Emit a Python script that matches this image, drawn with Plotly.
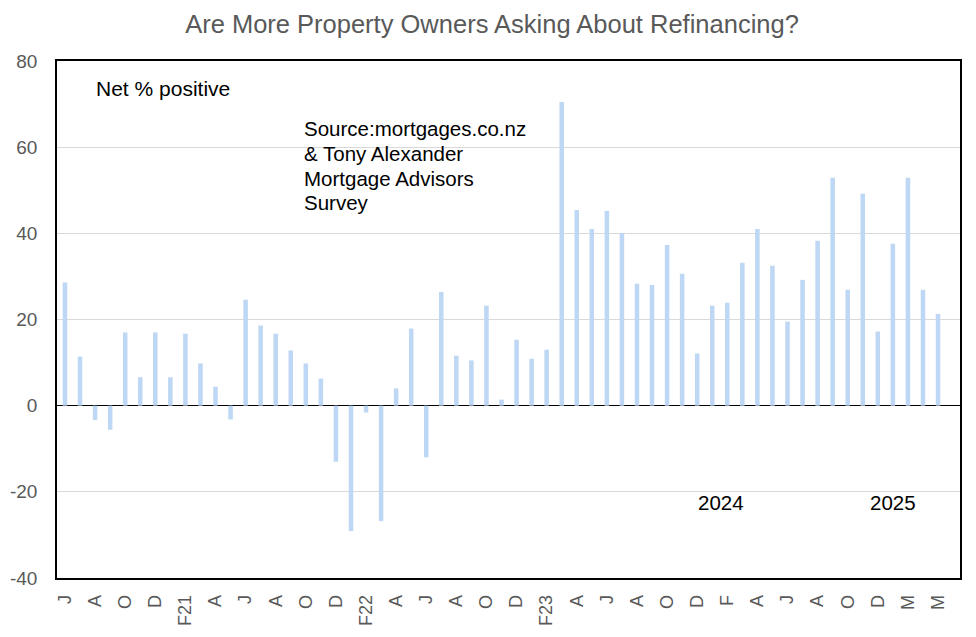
import plotly.graph_objects as go

# Net % of advisors reporting more refinancing enquiries, one bar per survey
net_positive = [
    28.6, 11.4, -3.3, -5.6, 17.0, 6.6, 17.0, 6.6, 16.7, 9.8,
    4.4, -3.2, 24.6, 18.6, 16.7, 12.8, 9.8, 6.3, -13.0, -29.1,
    -1.6, -26.8, 4.0, 17.9, -12.0, 26.4, 11.6, 10.5, 23.2, 1.4,
    15.3, 10.9, 13.0, 70.5, 45.4, 41.0, 45.2, 40.1, 28.3, 28.0,
    37.3, 30.6, 12.1, 23.2, 23.9, 33.2, 41.0, 32.5, 19.5, 29.2,
    38.3, 52.9, 26.9, 49.2, 17.2, 37.6, 52.9, 26.9, 21.3,
]

# every second survey gets a label
tick_labels = [
    "J", "A", "O", "D", "F21", "A", "J", "A", "O", "D",
    "F22", "A", "J", "A", "O", "D", "F23", "A", "J", "A",
    "O", "D", "F", "A", "J", "A", "O", "D", "M", "M",
]

y_ticks = [-40, -20, 0, 20, 40, 60, 80]
y_tick_text = ["-40", "-20", "0", "20", "40", "60", "80"]

year_labels = ["2024", "2025"]
year_label_pos = [43.6, 55.0]

source_lines = ["Source:mortgages.co.nz", "& Tony Alexander", "Mortgage Advisors", "Survey"]

FONT = "Liberation Sans, Arial, sans-serif"
GREY = "#595959"

x = list(range(len(net_positive)))

fig = go.Figure(go.Bar(
    x=x,
    y=net_positive,
    marker=dict(color="#bdd7f4", line=dict(width=0)),
    width=0.3,
))

annotations = [
    dict(text="Net % positive", xref="paper", yref="y", x=0.041, y=73.7,
         xanchor="left", yanchor="middle", showarrow=False,
         font=dict(size=21, color="black", family=FONT)),
]
# source note, one line per annotation to keep the tight line spacing
for i, line in enumerate(source_lines):
    annotations.append(dict(text=line, xref="paper", yref="paper", x=0.271, y=0.8685,
                            yshift=-24.6 * i, xanchor="left", yanchor="middle",
                            showarrow=False, font=dict(size=20.5, color="black", family=FONT)))
for lbl, pos in zip(year_labels, year_label_pos):
    annotations.append(dict(text=lbl, x=pos, y=-22.5, xref="x", yref="y",
                            showarrow=False, font=dict(size=20.5, color="black", family=FONT)))

# the page body adds an 8px margin, so the figure is trimmed to fit the window
fig.update_layout(
    width=968, height=629,
    margin=dict(l=49, r=16, t=53, b=59, autoexpand=False),
    paper_bgcolor="white", plot_bgcolor="white",
    title=dict(text="Are More Property Owners Asking About Refinancing?",
               x=0.5, xanchor="center", y=0.9746, yanchor="middle",
               font=dict(size=25.5, color=GREY, family=FONT)),
    showlegend=False,
    annotations=annotations,
    xaxis=dict(
        range=[-0.53, 59.46],
        tickmode="array",
        tickvals=x[::2],
        ticktext=tick_labels,
        tickangle=-90,
        tickfont=dict(size=18, color=GREY, family=FONT),
        showgrid=False, zeroline=False,
        showline=True, linecolor="black", linewidth=1.5, mirror=True,
        ticks="", ticklabelstandoff=8, automargin=False,
    ),
    yaxis=dict(
        range=[-40, 80],
        tickmode="array",
        tickvals=y_ticks,
        ticktext=y_tick_text,
        tickfont=dict(size=19, color=GREY, family=FONT),
        showgrid=True, gridcolor="#d9d9d9", gridwidth=1,
        zeroline=True, zerolinecolor="black", zerolinewidth=1.2,
        showline=True, linecolor="black", linewidth=1.5, mirror=True,
        ticks="", ticklabelstandoff=14, automargin=False,
    ),
)

fig.write_html("out.html")
